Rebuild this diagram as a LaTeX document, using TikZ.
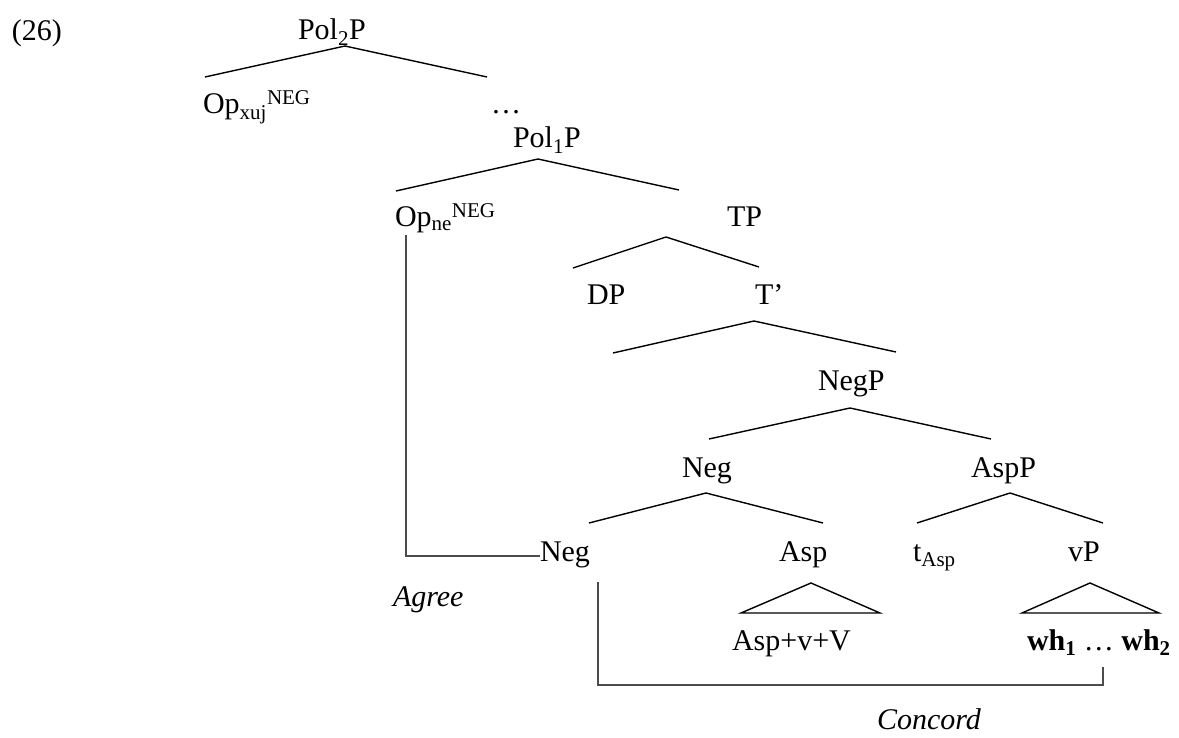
\documentclass[tikz,border=0pt]{standalone}
\usepackage{fontspec}
\setmainfont{Liberation Serif}
\begin{document}
\begin{tikzpicture}[x=1pt,y=-1pt,
  lbl/.style={anchor=base west,inner sep=0pt,outer sep=0pt,font=\fontsize{30}{36}\selectfont},
  branch/.style={line width=1.4pt,black,line join=miter},
  relation/.style={line width=1.3pt,black!70}]
\useasboundingbox (0,0) rectangle (1179,738);
% labels
\node[lbl] (ex) at (12,41) {(26)};
\node[lbl] (pol2) at (298,40) {Pol\textsubscript{2}P};
\node[lbl] (opxuj) at (203,114) {Op\textsubscript{xuj}\textsuperscript{NEG}};
\node[lbl] (dots) at (491,114) {\dots};
\node[lbl] (pol1) at (513,148) {Pol\textsubscript{1}P};
\node[lbl] (opne) at (395,227) {Op\textsubscript{ne}\textsuperscript{NEG}};
\node[lbl] (tp) at (727,227) {TP};
\node[lbl] (dp) at (587,305) {DP};
\node[lbl] (tbar) at (755,305) {T’};
\node[lbl] (negp) at (818,390) {NegP};
\node[lbl] (neghi) at (682,477) {Neg};
\node[lbl] (aspp) at (971,477) {AspP};
\node[lbl] (neglo) at (540,561) {Neg};
\node[lbl] (asp) at (779,561) {Asp};
\node[lbl] (tasp) at (913,561) {t\textsubscript{Asp}};
\node[lbl] (vp) at (1068,561) {vP};
\node[lbl] (aspvv) at (732,650) {Asp+v+V};
\node[lbl] (whs) at (1027,650) {\textbf{wh\textsubscript{1}} \dots{} \textbf{wh\textsubscript{2}}};
\node[lbl] (agree) at (393,606) {\textit{Agree}};
\node[lbl] (concord) at (877,729) {\textit{Concord}};
% branch points
\coordinate (a1) at (345,46); \coordinate (l1) at (205,77); \coordinate (r1) at (487,77);
\coordinate (a2) at (538,159); \coordinate (l2) at (396,191); \coordinate (r2) at (679,190);
\coordinate (a3) at (666,237); \coordinate (l3) at (573,268); \coordinate (r3) at (759,267);
\coordinate (a4) at (754,321); \coordinate (l4) at (613,353); \coordinate (r4) at (896,352);
\coordinate (a5) at (850,408); \coordinate (l5) at (709,439); \coordinate (r5) at (991,439);
\coordinate (a6) at (706,493); \coordinate (l6) at (589,523); \coordinate (r6) at (823,523);
\coordinate (a7) at (1010,493); \coordinate (l7) at (917,523); \coordinate (r7) at (1103,523);
\coordinate (a8) at (811,583); \coordinate (l8) at (741,613); \coordinate (r8) at (880,613);
\coordinate (a9) at (1090,583); \coordinate (l9) at (1022,613); \coordinate (r9) at (1159,613);
\draw[branch] (l1) -- (a1) -- (r1);
\draw[branch] (l2) -- (a2) -- (r2);
\draw[branch] (l3) -- (a3) -- (r3);
\draw[branch] (l4) -- (a4) -- (r4);
\draw[branch] (l5) -- (a5) -- (r5);
\draw[branch] (l6) -- (a6) -- (r6);
\draw[branch] (l7) -- (a7) -- (r7);
\draw[branch] (l8) -- (a8) -- (r8) -- cycle;
\draw[branch] (l9) -- (a9) -- (r9) -- cycle;
% Agree relation
\coordinate (ag1) at (406,235);
\coordinate (ag2) at (406,556);
\draw[relation] (ag1) -- (ag2) -- (neglo.west |- ag2);
% Concord relation
\coordinate (c1) at (598,582);
\coordinate (c2) at (598,685);
\coordinate (c3) at (1103,685);
\coordinate (c4) at (1103,667);
\draw[relation] (c1) -- (c2) -- (c3) -- (c4);
\end{tikzpicture}
\end{document}
